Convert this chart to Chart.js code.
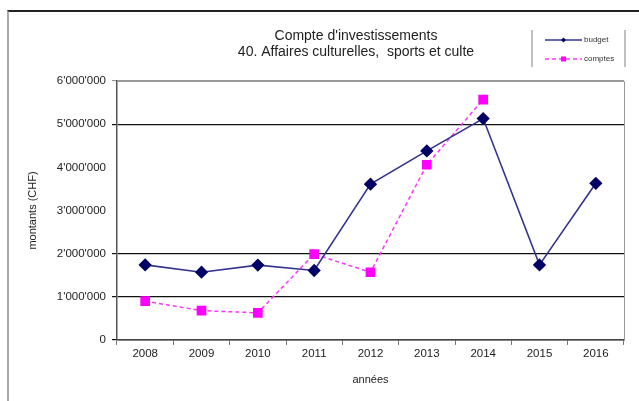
<!DOCTYPE html>
<html>
<head>
<meta charset="utf-8">
<script src="https://cdn.jsdelivr.net/npm/chart.js@4/dist/chart.umd.min.js"></script>
<style>
  html, body { margin: 0; padding: 0; background: #fff; }
  #wrap { position: relative; width: 639px; height: 401px; overflow: hidden; }
  #frame { position: absolute; left: 7px; top: 10px; width: 640px; height: 400px;
           border-top: 2px solid #222; border-left: 2px solid #aaa; box-sizing: border-box; }
  canvas { position: absolute; left: 0; top: 0; }
</style>
</head>
<body>
<div id="wrap">
  <div id="frame"></div>
  <canvas id="chart" width="639" height="401"></canvas>
</div>
<script>
const years = ["2008", "2009", "2010", "2011", "2012", "2013", "2014", "2015", "2016"];
const budget = [1740000, 1570000, 1735000, 1610000, 3610000, 4380000, 5130000, 1740000, 3630000];
const comptes = [900000, 680000, 630000, 1990000, 1570000, 4060000, 5570000, null, null];
const titleLines = ["Compte d'investissements", "40. Affaires culturelles,  sports et culte"];
const hiddenGrid = [3000000, 4000000];

const FONT = "'Liberation Sans', Arial, sans-serif";

const fmt = (v) => String(v).replace(/\B(?=(\d{3})+(?!\d))/g, "'");

// title, legend box and the grey right/top border of the plot
const decor = {
  id: "decor",
  afterDraw(chart) {
    const ctx = chart.ctx;
    const area = chart.chartArea;
    ctx.save();

    ctx.strokeStyle = "#999";
    ctx.lineWidth = 1;
    ctx.beginPath();
    ctx.moveTo(area.left, area.top + 0.5);
    ctx.lineTo(area.right + 0.5, area.top + 0.5);
    ctx.lineTo(area.right + 0.5, area.bottom);
    ctx.stroke();

    ctx.fillStyle = "#222";
    ctx.font = "14px " + FONT;
    ctx.textAlign = "center";
    ctx.textBaseline = "middle";
    ctx.fillText(titleLines[0], 356, 36);
    ctx.fillText(titleLines[1], 356, 52);

    // legend
    ctx.strokeStyle = "#aaa";
    ctx.lineWidth = 1.5;
    ctx.beginPath();
    ctx.moveTo(532, 30); ctx.lineTo(532, 67);
    ctx.moveTo(625, 30); ctx.lineTo(625, 67);
    ctx.stroke();

    const rows = [40, 59];
    chart.data.datasets.forEach((ds, i) => {
      const y = rows[i];
      ctx.strokeStyle = ds.borderColor;
      ctx.lineWidth = 1.3;
      ctx.setLineDash(ds.borderDash || []);
      ctx.beginPath();
      ctx.moveTo(545, y); ctx.lineTo(582, y);
      ctx.stroke();
      ctx.setLineDash([]);
      ctx.fillStyle = ds.pointBackgroundColor;
      if (ds.pointStyle === "rect") {
        ctx.fillRect(561, y - 2.5, 5, 5);
      } else {
        ctx.beginPath();
        ctx.moveTo(563.5, y - 2.5); ctx.lineTo(566, y); ctx.lineTo(563.5, y + 2.5); ctx.lineTo(561, y);
        ctx.closePath(); ctx.fill();
      }
      ctx.fillStyle = "#333";
      ctx.font = "8px " + FONT;
      ctx.textAlign = "left";
      ctx.fillText(ds.label, 584, y);
    });
    ctx.restore();
  }
};

new Chart(document.getElementById("chart"), {
  type: "line",
  data: {
    labels: years,
    datasets: [
      {
        label: "budget",
        data: budget,
        borderColor: "#33338f",
        borderWidth: 1.6,
        pointStyle: "rectRot",
        pointRadius: 5.5,
        pointBackgroundColor: "#000066",
        pointBorderColor: "#000066",
        tension: 0
      },
      {
        label: "comptes",
        data: comptes,
        borderColor: "#ff33ff",
        borderWidth: 1.5,
        borderDash: [4, 3],
        pointStyle: "rect",
        pointRadius: 5.8,
        pointBackgroundColor: "#ff00ff",
        pointBorderColor: "#ff00ff",
        spanGaps: false,
        tension: 0
      }
    ]
  },
  options: {
    responsive: false,
    animation: false,
    layout: { padding: { left: 22, right: 15, top: 81, bottom: 10 } },
    plugins: {
      legend: { display: false },
      title: { display: false },
      tooltip: { enabled: false }
    },
    scales: {
      x: {
        offset: true,
        afterFit: (s) => { s.height = 51; },
        grid: { offset: true, drawOnChartArea: false, drawTicks: true, tickLength: 5, color: "#777" },
        border: { color: "#444", width: 1.5 },
        ticks: { color: "#222", font: { family: FONT, size: 11.5 }, padding: 2, maxRotation: 0 },
        title: { display: true, text: "années", color: "#222", font: { family: FONT, size: 11 }, padding: { top: 4, bottom: 4 } }
      },
      y: {
        min: 0,
        max: 6000000,
        afterFit: (s) => { s.width = 95; },
        grid: {
          tickLength: 5,
          lineWidth: 1.2,
          color: (c) => {
            const v = c.tick ? c.tick.value : null;
            if (hiddenGrid.includes(v)) return "rgba(0,0,0,0)";
            if (v === 6000000) return "#999";
            return "#111";
          }
        },
        border: { color: "#555", width: 1.5 },
        ticks: {
          stepSize: 1000000,
          color: "#222",
          padding: 6,
          font: { family: FONT, size: 11.5 },
          callback: (v) => fmt(v)
        },
        title: { display: true, text: "montants (CHF)", color: "#222", font: { family: FONT, size: 11 }, padding: { top: 4, bottom: 4 } }
      }
    }
  },
  plugins: [decor]
});
</script>
</body>
</html>
